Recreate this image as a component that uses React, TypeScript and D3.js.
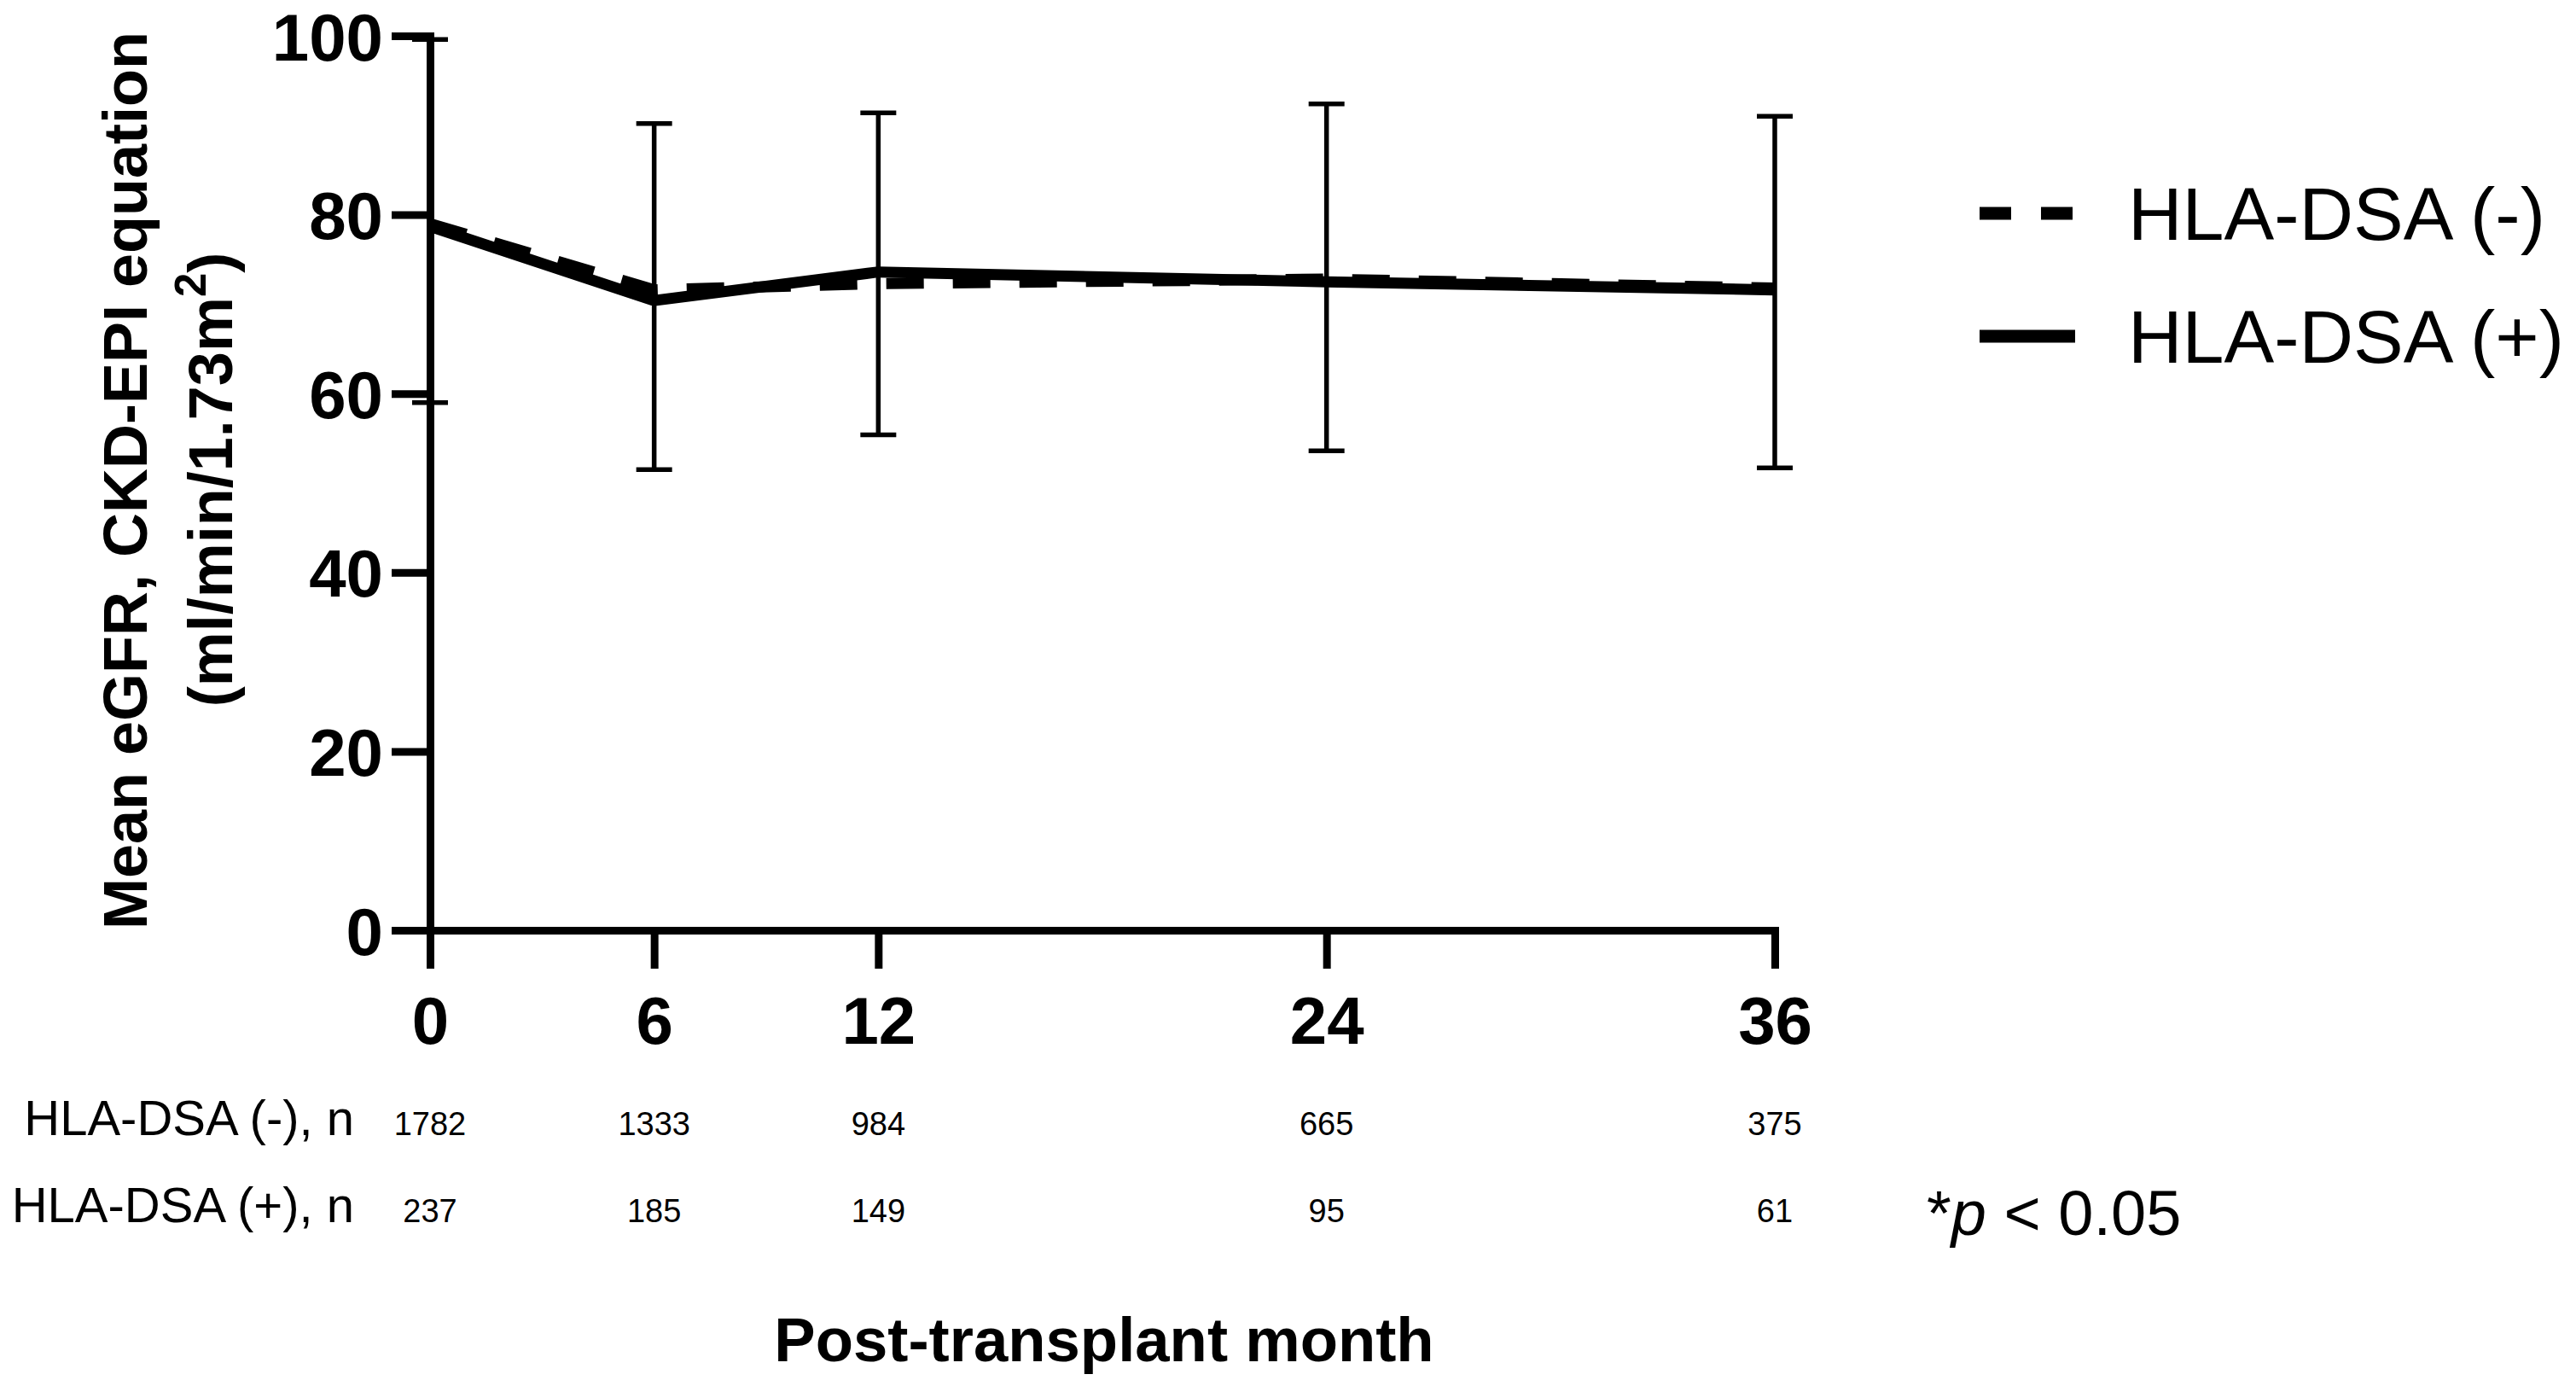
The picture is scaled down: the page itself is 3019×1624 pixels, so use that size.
import React, { useEffect, useRef } from 'react';
import * as d3 from 'd3';

// Post-transplant months (x categories, numeric scale)
const months = [0, 6, 12, 24, 36];
// Mean eGFR per group
const dsaNegMean = [79.0, 71.6, 72.3, 72.8, 71.8];
const dsaPosMean = [78.7, 70.4, 73.6, 72.5, 71.6];
// Error bar ends (mean ± SD as drawn)
const errUpper = [99.6, 90.2, 91.4, 92.4, 91.0];
const errLower = [59.0, 51.5, 55.4, 53.6, 51.7];
const yTicks = [0, 20, 40, 60, 80, 100];
// Numbers at risk
const dsaNegCounts = [1782, 1333, 984, 665, 375];
const dsaPosCounts = [237, 185, 149, 95, 61];
const seriesLabels = ['HLA-DSA (-)', 'HLA-DSA (+)'];
const rowLabels = ['HLA-DSA (-), n', 'HLA-DSA (+), n'];

const FONT = "'Liberation Sans', Arial, Helvetica, sans-serif";
const W = 3019;
const H = 1624;

export default function App() {
  const svgRef = useRef<SVGSVGElement>(null);

  useEffect(() => {
    if (!svgRef.current) return;
    const svg = d3.select(svgRef.current);
    svg.selectAll('*').remove();

    const x = d3.scaleLinear().domain([0, 36]).range([504, 2080]);
    const y = d3.scaleLinear().domain([0, 100]).range([1090, 42]);

    svg.append('rect').attr('width', W).attr('height', H).attr('fill', '#fff');

    // Error bars
    const eb = svg.append('g').attr('stroke', '#000').attr('stroke-width', 5.5);
    months.forEach((m, i) => {
      const cx = x(m);
      eb.append('line')
        .attr('x1', cx).attr('x2', cx)
        .attr('y1', y(errLower[i])).attr('y2', y(errUpper[i]));
      [errLower[i], errUpper[i]].forEach(v => {
        eb.append('line')
          .attr('x1', cx - 21).attr('x2', cx + 21)
          .attr('y1', y(v)).attr('y2', y(v));
      });
    });

    // Lines
    const line = d3.line<number>()
      .x((_, i) => x(months[i]))
      .y(d => y(d));

    svg.append('path')
      .datum(dsaNegMean)
      .attr('fill', 'none')
      .attr('stroke', '#000')
      .attr('stroke-width', 13)
      .attr('stroke-dasharray', '44 34')
      .attr('stroke-linejoin', 'round')
      .attr('d', line);

    svg.append('path')
      .datum(dsaPosMean)
      .attr('fill', 'none')
      .attr('stroke', '#000')
      .attr('stroke-width', 13)
      .attr('stroke-linejoin', 'miter')
      .attr('d', line);

    // Y axis
    const yAxis = svg.append('g')
      .attr('transform', `translate(${x(0)},0)`)
      .call(d3.axisLeft(y).tickValues(yTicks).tickSize(45).tickSizeOuter(0).tickPadding(10));
    yAxis.select('.domain').attr('stroke-width', 9).attr('stroke-linecap', 'square');
    yAxis.selectAll('.tick line').attr('stroke-width', 9);
    yAxis.selectAll('.tick text')
      .attr('dy', '0.36em')
      .attr('font-family', FONT)
      .attr('font-weight', 'bold')
      .attr('font-size', 78)
      .attr('fill', '#000');

    // X axis
    const xAxis = svg.append('g')
      .attr('transform', `translate(0,${y(0)})`)
      .call(d3.axisBottom(x).tickValues(months).tickSize(45).tickSizeOuter(0).tickPadding(33));
    xAxis.select('.domain').attr('stroke-width', 9).attr('stroke-linecap', 'square');
    xAxis.selectAll('.tick line').attr('stroke-width', 9);
    xAxis.selectAll('.tick text')
      .attr('font-family', FONT)
      .attr('font-weight', 'bold')
      .attr('font-size', 78)
      .attr('fill', '#000');

    // Y axis title
    const yTitle = svg.append('g')
      .attr('font-family', FONT)
      .attr('font-weight', 'bold')
      .attr('font-size', 72)
      .attr('text-anchor', 'middle');
    yTitle.append('text')
      .attr('transform', 'translate(172,563) rotate(-90)')
      .text('Mean eGFR, CKD-EPI equation');
    const t2 = yTitle.append('text')
      .attr('transform', 'translate(272,562) rotate(-90)');
    t2.append('tspan').text('(ml/min/1.73m');
    t2.append('tspan').attr('font-size', 51).attr('dy', -31).text('2');
    t2.append('tspan').attr('dy', 31).text(')');

    // X axis title
    svg.append('text')
      .attr('x', (x(0) + x(36)) / 2 + 2)
      .attr('y', 1595)
      .attr('text-anchor', 'middle')
      .attr('font-family', FONT)
      .attr('font-weight', 'bold')
      .attr('font-size', 72.5)
      .text('Post-transplant month');

    // Numbers at risk
    const rows = [dsaNegCounts, dsaPosCounts];
    const rowBase = [1330, 1432];
    rows.forEach((counts, r) => {
      svg.append('text')
        .attr('x', 415)
        .attr('y', rowBase[r])
        .attr('text-anchor', 'end')
        .attr('font-family', FONT)
        .attr('font-size', 58)
        .text(rowLabels[r]);
      svg.append('g')
        .selectAll('text')
        .data(counts)
        .enter()
        .append('text')
        .attr('x', (_, i) => x(months[i]))
        .attr('y', rowBase[r])
        .attr('text-anchor', 'middle')
        .attr('font-family', FONT)
        .attr('font-size', 38)
        .text(d => d);
    });

    // Significance note
    const note = svg.append('text')
      .attr('x', 2258)
      .attr('y', 1447)
      .attr('font-family', FONT)
      .attr('font-size', 74);
    note.append('tspan').text('*');
    note.append('tspan').attr('font-style', 'italic').text('p');
    note.append('tspan').text(' < 0.05');

    // Legend
    const legend = svg.append('g');
    const legendY = [250, 394];
    seriesLabels.forEach((label, i) => {
      legend.append('line')
        .attr('x1', 2320).attr('x2', 2432)
        .attr('y1', legendY[i]).attr('y2', legendY[i])
        .attr('stroke', '#000')
        .attr('stroke-width', 15)
        .attr('stroke-dasharray', i === 0 ? '37 35' : null);
      legend.append('text')
        .attr('x', 2494)
        .attr('y', legendY[i] + 31)
        .attr('font-family', FONT)
        .attr('font-size', 88)
        .text(label);
    });
  }, []);

  return (
    <svg
      ref={svgRef}
      width={W}
      height={H}
      style={{ position: 'absolute', left: 0, top: 0, display: 'block' }}
    />
  );
}
